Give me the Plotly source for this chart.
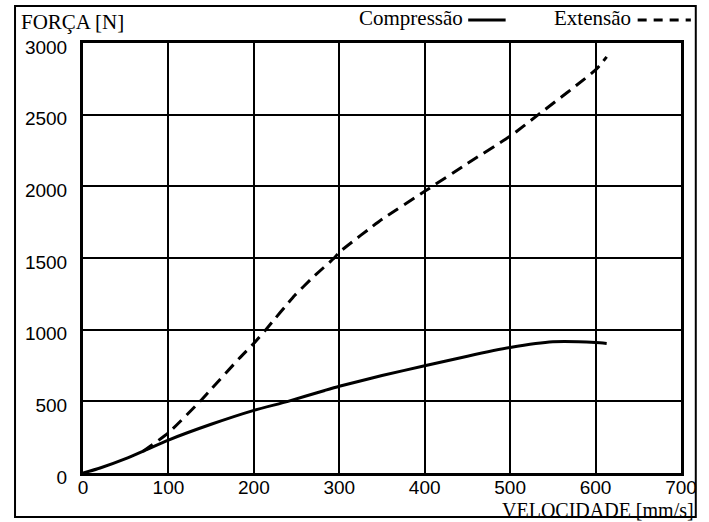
import plotly.graph_objects as go

# Data
comp_v = [0, 20, 50, 73, 100, 150, 200, 240, 283, 300, 350, 400, 450, 500, 550, 600, 613]
comp_f = [0, 35, 100, 160, 230, 340, 437, 500, 576, 605, 680, 748, 815, 875, 915, 910, 903]

ext_v = [70, 100, 137, 150, 183, 200, 214, 248, 270, 294, 300, 350, 400, 450, 500, 533, 600, 613]
ext_f = [150, 280, 500, 585, 800, 905, 1000, 1240, 1370, 1500, 1540, 1770, 1965, 2160, 2350, 2500, 2812, 2903]

x_ticks = [0, 100, 200, 300, 400, 500, 600, 700]
y_ticks = [0, 500, 1000, 1500, 2000, 2500, 3000]

SERIF = "Liberation Serif, Times New Roman, serif"
SANS = "Liberation Sans, Arial, sans-serif"

fig = go.Figure()
fig.add_trace(go.Scatter(x=comp_v, y=comp_f, mode="lines", name="Compressão",
                         line=dict(color="black", width=3, shape="spline", smoothing=0.6),
                         showlegend=False))
fig.add_trace(go.Scatter(x=ext_v, y=ext_f, mode="lines", name="Extensão",
                         line=dict(color="black", width=3, dash="12px,7px", shape="spline", smoothing=0.5),
                         showlegend=False))

W, H = 709, 522
L, R, T, B = 83, 19, 43, 49
pw, ph = W - L - R, H - T - B

def px(xp):
    return (xp - L) / pw

def py(yp):
    return (H - B - yp) / ph

fig.update_layout(
    width=W, height=H,
    margin=dict(l=L, r=R, t=T, b=B),
    paper_bgcolor="white", plot_bgcolor="white",
    xaxis=dict(range=[0, 700], tickvals=x_ticks, ticktext=[str(v) for v in x_ticks],
               showgrid=True, gridcolor="black", gridwidth=2,
               showline=True, linecolor="black", linewidth=3, mirror=True,
               zeroline=False, ticks="", ticklabelstandoff=-5,
               tickfont=dict(family=SANS, size=19, color="black")),
    yaxis=dict(range=[0, 3000], tickvals=y_ticks, ticktext=[str(v) for v in y_ticks],
               showgrid=True, gridcolor="black", gridwidth=2,
               showline=True, linecolor="black", linewidth=3, mirror=True,
               zeroline=False, ticks="", ticklabelstandoff=9, ticklabelshift=4,
               tickfont=dict(family=SANS, size=19, color="black")),
    annotations=[
        dict(text="FORÇA [N]", xref="paper", yref="paper", x=px(18), y=py(22),
             xanchor="left", yanchor="middle", showarrow=False,
             font=dict(family=SERIF, size=21, color="black")),
        dict(text="VELOCIDADE [mm/s]", xref="paper", yref="paper", x=px(705), y=py(510),
             xanchor="right", yanchor="middle", showarrow=False,
             font=dict(family=SERIF, size=20, color="black")),
        dict(text="Compressão", xref="paper", yref="paper", x=px(471), y=py(18),
             xanchor="right", yanchor="middle", showarrow=False,
             font=dict(family=SERIF, size=21, color="black")),
        dict(text="Extensão", xref="paper", yref="paper", x=px(641), y=py(18),
             xanchor="right", yanchor="middle", showarrow=False,
             font=dict(family=SERIF, size=21, color="black")),
    ],
    shapes=[
        dict(type="rect", xref="paper", yref="paper", x0=px(14), x1=px(705), y0=py(517), y1=py(6),
             line=dict(color="black", width=2), layer="below"),
        dict(type="line", xref="paper", yref="paper", x0=px(474), x1=px(512), y0=py(20), y1=py(20),
             line=dict(color="black", width=3)),
        dict(type="line", xref="paper", yref="paper", x0=px(646), x1=px(700), y0=py(20), y1=py(20),
             line=dict(color="black", width=3, dash="9px,7px")),
    ],
)

fig.write_html("out.html")
